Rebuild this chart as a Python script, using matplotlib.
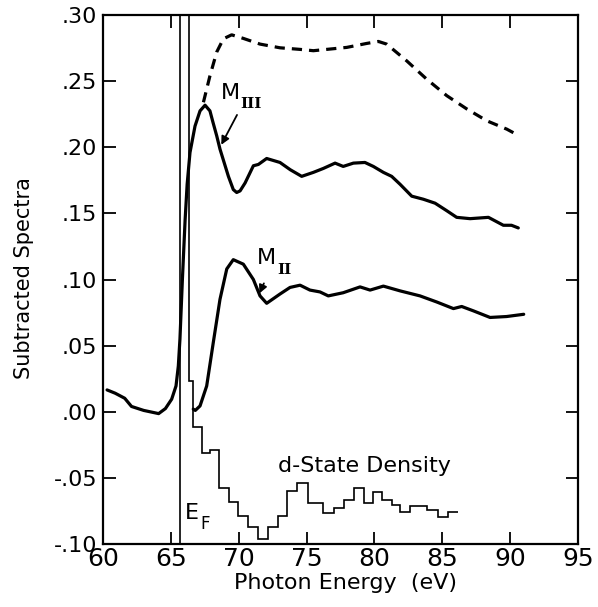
import matplotlib
matplotlib.use('Agg')
import matplotlib.pyplot as plt

# M_III curve (includes low-energy part below the edge)
m3_x = [60.3, 60.9, 61.6, 62.1, 63.0, 64.1, 64.6, 65.06, 65.38, 65.55, 65.67, 65.85, 66.05, 66.2, 66.41,
        66.78, 67.15, 67.52, 67.88, 68.1, 68.38, 68.62, 69.24, 69.6, 69.85, 70.1, 70.47, 71.08, 71.45,
        72.06, 73.04, 73.8, 74.64, 75.5, 76.24, 77.1, 77.7, 78.45, 79.3, 79.92, 80.66, 81.27, 81.89,
        82.75, 83.6, 84.47, 85.33, 86.06, 87.05, 88.4, 89.5, 90.1, 90.6]
m3_y = [0.0165, 0.014, 0.0102, 0.004, 0.001, -0.0014, 0.0024, 0.0095, 0.0195, 0.0346, 0.055, 0.10, 0.145,
        0.172, 0.196, 0.216, 0.2275, 0.2318, 0.2275, 0.219, 0.2086, 0.1986, 0.178, 0.168, 0.1658, 0.167,
        0.173, 0.186, 0.187, 0.1915, 0.1885, 0.183, 0.178, 0.181, 0.184, 0.188, 0.1855, 0.188, 0.1885,
        0.1855, 0.181, 0.178, 0.172, 0.163, 0.1607, 0.1577, 0.152, 0.147, 0.146, 0.147, 0.141, 0.141,
        0.139]

# M_II curve
m2_x = [66.65, 66.8, 67.15, 67.64, 68.13, 68.62, 69.12, 69.6, 70.34, 71.08, 71.57, 72.06, 73.04, 73.78,
        74.52, 75.25, 75.99, 76.6, 77.7, 78.94, 79.68, 80.66, 81.89, 83.36, 84.59, 85.82, 86.43, 87.29,
        88.52, 89.74, 91.0]
m2_y = [0.002, 0.001, 0.0044, 0.0195, 0.0526, 0.085, 0.108, 0.115, 0.1116, 0.100, 0.0876, 0.082, 0.089,
        0.094, 0.0957, 0.092, 0.0906, 0.0876, 0.090, 0.0944, 0.092, 0.095, 0.0914, 0.0876, 0.083, 0.078,
        0.0796, 0.0763, 0.0713, 0.072, 0.0737]

# dashed curve
dash_x = [67.4, 67.88, 68.38, 68.87, 69.48, 70.34, 71.57, 73.04, 74.52, 75.5, 77.96, 79.43, 80.29, 80.9,
          82.37, 83.85, 85.33, 86.8, 88.28, 89.75, 90.6]
dash_y = [0.234, 0.254, 0.272, 0.282, 0.285, 0.2823, 0.278, 0.2752, 0.274, 0.273, 0.2755, 0.2785, 0.280,
          0.278, 0.2654, 0.2515, 0.239, 0.229, 0.22, 0.2137, 0.209]

# d-state density histogram
dos_edges = [65.67, 66.31, 66.60, 67.27, 67.88, 68.57, 69.31, 69.97, 70.71, 71.44, 72.14, 72.87, 73.58,
             74.27, 75.13, 76.24, 77.02, 77.76, 78.5, 79.23, 79.92, 80.53, 81.27, 81.89, 82.62, 83.9,
             84.7, 85.44, 86.18]
dos_vals = [0.5, 0.023, -0.0115, -0.031, -0.029, -0.058, -0.068, -0.079, -0.087, -0.096, -0.087, -0.079,
            -0.060, -0.0536, -0.069, -0.0768, -0.0725, -0.0667, -0.058, -0.069, -0.0607, -0.0667, -0.0707,
            -0.0758, -0.0712, -0.0743, -0.0793, -0.0758]

e_fermi = 65.67

x_ticks = [60, 65, 70, 75, 80, 85, 90, 95]
y_ticks = [-0.10, -0.05, 0.00, 0.05, 0.10, 0.15, 0.20, 0.25, 0.30]
y_labels = ['-.10', '-.05', '.00', '.05', '.10', '.15', '.20', '.25', '.30']

fig = plt.figure(figsize=(5.98, 6.07), dpi=100)
ax = fig.add_axes([103 / 598, 1 - 544 / 607, 475 / 598, 529 / 607])

ax.plot(m3_x, m3_y, color='black', linewidth=2.3, solid_capstyle='round', solid_joinstyle='round')
ax.plot(m2_x, m2_y, color='black', linewidth=2.3, solid_capstyle='round', solid_joinstyle='round')
ax.plot(dash_x, dash_y, color='black', linewidth=2.3, linestyle=(0, (3.2, 2.2)))
ax.stairs(dos_vals, dos_edges, baseline=None, color='black', linewidth=1.2)
ax.axvline(e_fermi, color='black', linewidth=1.2)

ax.set_xlim(60, 95)
ax.set_ylim(-0.10, 0.30)
ax.set_xticks(x_ticks)
ax.set_xticklabels([str(t) for t in x_ticks], fontsize=18)
ax.set_yticks(y_ticks)
ax.set_yticklabels(y_labels, fontsize=16)
ax.tick_params(direction='in', length=9, width=1.3, top=True, right=True)
ax.tick_params(axis='x', pad=2)
ax.tick_params(axis='y', pad=4)
for s in ax.spines.values():
    s.set_linewidth(1.6)

fig.text(346 / 598, 1 - 583 / 607, 'Photon Energy  (eV)', fontsize=16, ha='center', va='center')
fig.text(24 / 598, 1 - 278 / 607, 'Subtracted Spectra', fontsize=15, ha='center', va='center', rotation=90)

# annotations
ax.text(69.36, 0.241, 'M', fontsize=16, ha='center', va='center')
ax.text(70.93, 0.2324, 'III', fontsize=11, ha='center', va='center', family='DejaVu Serif', weight='bold')
ax.annotate('', xy=(68.62, 0.2), xytext=(69.97, 0.2263),
            arrowprops=dict(arrowstyle='-|>', color='black', lw=1.3, mutation_scale=12))
ax.text(72.06, 0.1166, 'M', fontsize=16, ha='center', va='center')
ax.text(73.34, 0.107, 'II', fontsize=11, ha='center', va='center', family='DejaVu Serif', weight='bold')
ax.annotate('', xy=(71.44, 0.0876), xytext=(71.94, 0.099),
            arrowprops=dict(arrowstyle='-|>', color='black', lw=1.3, mutation_scale=12))

ax.text(66.04, -0.0813, 'E', fontsize=16, ha='left', va='baseline')
ax.text(67.15, -0.0889, 'F', fontsize=12, ha='left', va='baseline')
ax.text(72.87, -0.0458, 'd-State Density', fontsize=16, ha='left', va='baseline')

plt.savefig('out.png', dpi=100)
plt.close()
